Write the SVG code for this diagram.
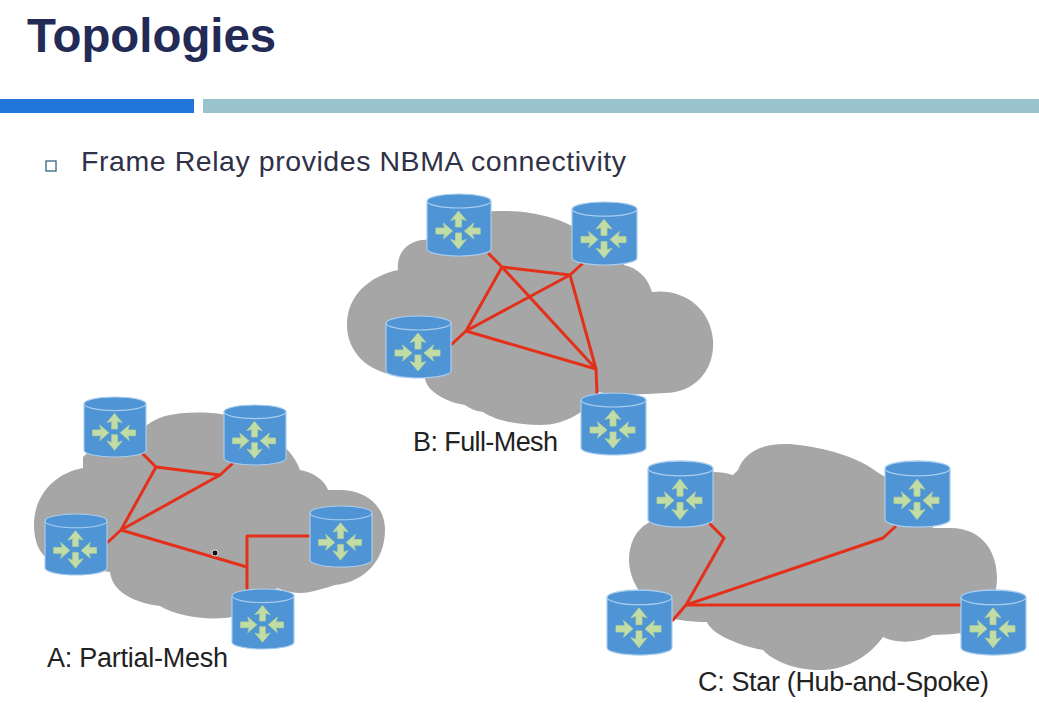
<svg xmlns="http://www.w3.org/2000/svg" xmlns:xlink="http://www.w3.org/1999/xlink" width="1039" height="719" viewBox="0 0 1039 719">
<style>
.cloud{fill:#a6a6a6}
.body{fill:#4f94d4;stroke:#a9cdef;stroke-width:1.2}
.rim{fill:none;stroke:#a9cdef;stroke-width:1.2}
.arrow{fill:#c2dca6;stroke:#b4d498;stroke-width:.8;stroke-linejoin:round}
.link{fill:none;stroke:#e4301a;stroke-width:3;stroke-linejoin:round;stroke-linecap:round}
.label{font-family:"Liberation Sans",Arial,sans-serif;font-size:27px;fill:#222}
</style>
<defs>
<g id="router">
<path class="body" d="M0,7A32.5,7 0 0 1 65,7V55A32.5,7 0 0 1 0,55Z"/>
<path class="rim" d="M0,7A32.5,7 0 0 0 65,7"/>
<g transform="translate(32,37)">
<path class="arrow" d="M0,-20L8,-10.5L3,-12V-4H-3V-12L-8,-10.5Z"/>
<path class="arrow" transform="translate(0,-2) rotate(180)" d="M0,-20L8,-10.5L3,-12V-4H-3V-12L-8,-10.5Z"/>
<path class="arrow" d="M-6,0L-15.5,-8L-14,-3H-23V3H-14L-15.5,8Z"/>
<path class="arrow" transform="rotate(180)" d="M-6,0L-15.5,-8L-14,-3H-22V3H-14L-15.5,8Z"/>
</g>
</g>
</defs>
<rect width="1039" height="719" fill="#fff"/>
<text x="27" y="52" font-family="'Liberation Sans',Arial,sans-serif" font-weight="700" font-size="47.4" fill="#232a56">Topologies</text>
<rect x="0" y="99" width="194" height="14" fill="#2176d9"/>
<rect x="203" y="99" width="836" height="14" fill="#9bc3cd"/>
<rect x="46" y="161" width="10" height="10" fill="#fff" stroke="#31627f" stroke-width="1.3"/>
<text x="81" y="171" font-family="'Liberation Sans',Arial,sans-serif" font-size="28.5" fill="#2f3148" textLength="545" lengthAdjust="spacing">Frame Relay provides NBMA connectivity</text>
<g id="clouds">
<path id="cloud-b" class="cloud" d="M398,270C370,276 347,295 347,325C347,350 365,372 400,376L425,377C425,390 445,402 465,405C472,410 477,411 483,412C495,420 515,425 540,425C565,425 588,412 598,392C620,396 645,394 665,393C695,393 715,370 713,340C710,305 680,288 652,292C648,278 638,268 624,265C620,250 605,240 575,228C560,218 530,210 497,211C470,212 445,222 430,240C412,238 396,250 398,270Z"/>
<path id="cloud-a" class="cloud" d="M83,468C55,473 34,495 34,525C34,545 42,560 60,565L110,572C112,590 130,602 160,606C175,615 200,620 225,618C245,616 265,602 277,588C290,593 300,594 310,592C320,590 328,587 335,585C365,582 385,560 385,530C385,505 365,490 340,490L328,490C325,480 312,472 300,470C295,455 275,432 245,420C225,412 190,410 165,416C155,419 150,423 147,425C125,430 95,445 83,457Z"/>
<path id="cloud-c" class="cloud" d="M648,523C635,530 629,545 629,560C629,578 640,598 660,612C668,620 690,622 707,622C710,632 735,645 763,650C775,663 800,671 825,670C850,668 870,655 883,637C895,643 915,644 933,635C950,634 960,634 965,632C985,620 997,600 997,578C997,555 985,528 950,528L933,528C925,510 905,488 877,472C860,458 825,447 790,444C765,443 745,450 738,470L733,475C727,473 720,472 713,472Z"/>
</g>
<g id="connectors">
<path class="link" d="M489,254L502,267L570,275L582,264M502,267L466,331L452,344M466,331L570,275M502,267L596,369M570,275L596,369M466,331L596,369L597,393"/>
<path class="link" d="M143,454L156,467L220,475L232,464M156,467L121,530L108,542M121,530L220,475M121,530L247,567V589M247,567V536H309"/>
<path class="link" d="M710,524L724,538L686,605L673,620M686,605L883,538L895,527M686,605H961"/>
</g>
<circle cx="215" cy="553" r="3" fill="#111" stroke="#fff" stroke-width=".8"/>
<g id="node-a1"><use xlink:href="#router" href="#router" transform="translate(84,397) scale(.954,.968)"/></g>
<g id="node-a2"><use xlink:href="#router" href="#router" transform="translate(224,405) scale(.954,.968)"/></g>
<g id="node-a3"><use xlink:href="#router" href="#router" transform="translate(45,514) scale(.954,.984)"/></g>
<g id="node-a4"><use xlink:href="#router" href="#router" transform="translate(310,506) scale(.954,.984)"/></g>
<g id="node-a5"><use xlink:href="#router" href="#router" transform="translate(232,589) scale(.954,.968)"/></g>
<g id="node-b1"><use xlink:href="#router" href="#router" transform="translate(427,194) scale(.985,1)"/></g>
<g id="node-b2"><use xlink:href="#router" href="#router" transform="translate(572,202) scale(1,1.016)"/></g>
<g id="node-b3"><use xlink:href="#router" href="#router" transform="translate(386,316) scale(1,1)"/></g>
<g id="node-b4"><use xlink:href="#router" href="#router" transform="translate(581,393) scale(1,1)"/></g>
<g id="node-c1"><use xlink:href="#router" href="#router" transform="translate(648,461) scale(1,1.065)"/></g>
<g id="node-c2"><use xlink:href="#router" href="#router" transform="translate(885,461) scale(1,1.065)"/></g>
<g id="node-c3"><use xlink:href="#router" href="#router" transform="translate(607,590) scale(1,1.05)"/></g>
<g id="node-c4"><use xlink:href="#router" href="#router" transform="translate(961,590) scale(1,1.05)"/></g>
<text class="label" x="47" y="667" textLength="181" lengthAdjust="spacing">A: Partial-Mesh</text>
<text class="label" x="413" y="451" textLength="145" lengthAdjust="spacing">B: Full-Mesh</text>
<text class="label" x="698" y="691" textLength="291" lengthAdjust="spacing">C: Star (Hub-and-Spoke)</text>
</svg>
